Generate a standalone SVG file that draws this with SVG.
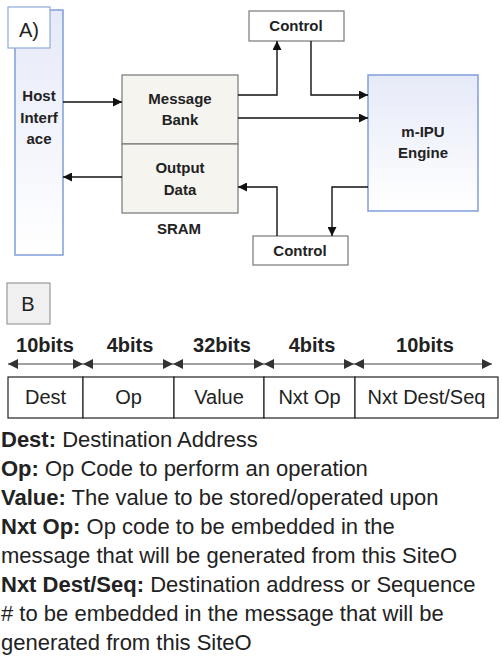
<svg xmlns="http://www.w3.org/2000/svg" width="502" height="660" viewBox="0 0 502 660">
<style>
.bold{font-family:"Liberation Sans",Arial,sans-serif;font-weight:bold;fill:#222}
.reg{font-family:"Liberation Sans",Arial,sans-serif;fill:#222}
.a15{font-size:15px;text-anchor:middle}
.conn{fill:none;stroke:#111;stroke-width:1.4}
.dim{fill:none;stroke:#444;stroke-width:1.2}
.blue{fill:url(#bg);stroke:#7f9ed8;stroke-width:1.5}
.box{fill:#fff;stroke:#777;stroke-width:1.2}
.sram{fill:#f6f4ef;stroke:#777;stroke-width:1.2}
.field{fill:#fff;stroke:#222;stroke-width:1.2}
.fl{font-size:20px;text-anchor:middle}
.desc{font-size:22px}
</style>
<defs>
<linearGradient id="bg" x1="0" y1="0" x2="0" y2="1">
<stop offset="0" stop-color="#e6eaf8"/>
<stop offset="1" stop-color="#ffffff"/>
</linearGradient>
<marker id="ah" viewBox="0 0 10 10" refX="10" refY="5" markerWidth="9" markerHeight="9" markerUnits="userSpaceOnUse" orient="auto">
<path d="M0,0 L10,5 L0,10 Z" fill="#111"/>
</marker>
<marker id="dh" viewBox="0 0 10 10" refX="10" refY="5" markerWidth="10" markerHeight="10" markerUnits="userSpaceOnUse" orient="auto-start-reverse">
<path d="M0,0 L10,5 L0,10 Z" fill="#333"/>
</marker>
</defs>

<g id="host">
<rect class="blue" x="15" y="10" width="48" height="245"/>
<text class="bold a15" x="39" y="101">Host</text>
<text class="bold a15" x="39" y="123">Interf</text>
<text class="bold a15" x="39" y="144">ace</text>
</g>
<g id="labelA">
<rect x="8" y="7" width="42" height="41" fill="#fff" stroke="#8eaadb" stroke-width="1.2"/>
<text class="reg" x="29" y="37" font-size="20" text-anchor="middle">A)</text>
</g>
<g id="sram">
<rect class="sram" x="122" y="75" width="116" height="69"/>
<rect class="sram" x="122" y="144" width="116" height="69"/>
<text class="bold a15" x="180" y="104">Message</text>
<text class="bold a15" x="180" y="125">Bank</text>
<text class="bold a15" x="180" y="173">Output</text>
<text class="bold a15" x="180" y="195">Data</text>
<text class="bold a15" x="179" y="234">SRAM</text>
</g>
<g id="control-top">
<rect class="box" x="249" y="11" width="95" height="30"/>
<text class="bold a15" x="296" y="31">Control</text>
</g>
<g id="control-bottom">
<rect class="box" x="253" y="236" width="95" height="29"/>
<text class="bold a15" x="300" y="256">Control</text>
</g>
<g id="mipu">
<rect class="blue" x="368" y="75" width="110" height="136"/>
<text class="bold a15" x="423" y="137">m-IPU</text>
<text class="bold a15" x="423" y="158">Engine</text>
</g>

<g id="connectors">
<path class="conn" d="M63,102 H122" marker-end="url(#ah)"/>
<path class="conn" d="M122,177 H63" marker-end="url(#ah)"/>
<path class="conn" d="M238,95 H277 V41" marker-end="url(#ah)"/>
<path class="conn" d="M311,41 V95 H368" marker-end="url(#ah)"/>
<path class="conn" d="M238,118 H368" marker-end="url(#ah)"/>
<path class="conn" d="M368,187 H332 V236" marker-end="url(#ah)"/>
<path class="conn" d="M277,236 V187 H238" marker-end="url(#ah)"/>
</g>

<g id="labelB">
<rect x="7" y="283" width="43" height="41" fill="#f0f0f0" stroke="#999" stroke-width="1.2"/>
<text class="reg" x="28" y="311" font-size="20" text-anchor="middle">B</text>
</g>

<g id="bit-widths">
<text class="bold" x="45" y="352" font-size="20" text-anchor="middle">10bits</text>
<text class="bold" x="130" y="352" font-size="20" text-anchor="middle">4bits</text>
<text class="bold" x="222" y="352" font-size="20" text-anchor="middle">32bits</text>
<text class="bold" x="312" y="352" font-size="20" text-anchor="middle">4bits</text>
<text class="bold" x="425" y="352" font-size="20" text-anchor="middle">10bits</text>
<path class="dim" d="M8,364 H83" marker-start="url(#dh)" marker-end="url(#dh)"/>
<path class="dim" d="M83,364 H173" marker-start="url(#dh)" marker-end="url(#dh)"/>
<path class="dim" d="M173,364 H264" marker-start="url(#dh)" marker-end="url(#dh)"/>
<path class="dim" d="M264,364 H354" marker-start="url(#dh)" marker-end="url(#dh)"/>
<path class="dim" d="M354,364 H492" marker-start="url(#dh)" marker-end="url(#dh)"/>
</g>

<g id="fields">
<rect class="field" x="8" y="377" width="75" height="41"/>
<rect class="field" x="83" y="377" width="91" height="41"/>
<rect class="field" x="174" y="377" width="90" height="41"/>
<rect class="field" x="264" y="377" width="91" height="41"/>
<rect class="field" x="355" y="377" width="143" height="41"/>
<text class="reg fl" x="45.5" y="404">Dest</text>
<text class="reg fl" x="128.5" y="404">Op</text>
<text class="reg fl" x="219" y="404">Value</text>
<text class="reg fl" x="309.5" y="404">Nxt Op</text>
<text class="reg fl" x="426.5" y="404">Nxt Dest/Seq</text>
</g>

<g id="legend" class="reg desc">
<text x="1" y="447"><tspan font-weight="bold">Dest:</tspan> Destination Address</text>
<text x="1" y="476"><tspan font-weight="bold">Op:</tspan> Op Code to perform an operation</text>
<text x="1" y="505"><tspan font-weight="bold">Value:</tspan> The value to be stored/operated upon</text>
<text x="1" y="534"><tspan font-weight="bold">Nxt Op:</tspan> Op code to be embedded in the</text>
<text x="1" y="563">message that will be generated from this SiteO</text>
<text x="1" y="592"><tspan font-weight="bold">Nxt Dest/Seq:</tspan> Destination address or Sequence</text>
<text x="1" y="621"># to be embedded in the message that will be</text>
<text x="1" y="650">generated from this SiteO</text>
</g>
</svg>
